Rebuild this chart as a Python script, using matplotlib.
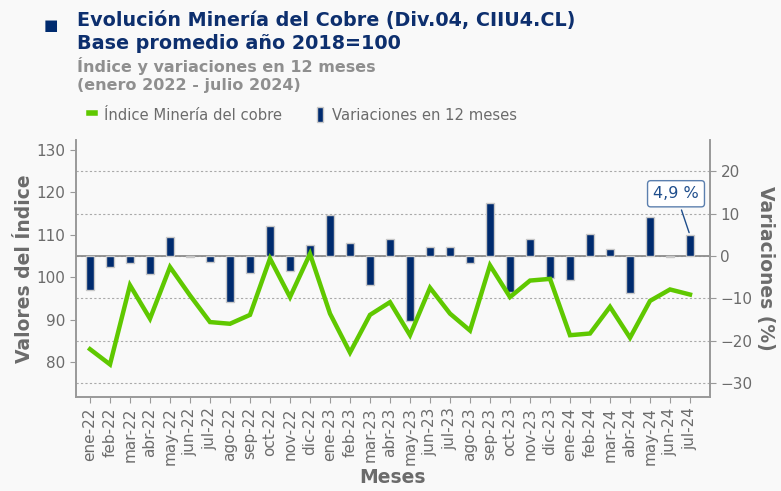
import matplotlib.pyplot as plt
from matplotlib.lines import Line2D
from matplotlib.patches import Patch

# Datos
meses = ["ene-22", "feb-22", "mar-22", "abr-22", "may-22", "jun-22", "jul-22", "ago-22",
         "sep-22", "oct-22", "nov-22", "dic-22", "ene-23", "feb-23", "mar-23", "abr-23",
         "may-23", "jun-23", "jul-23", "ago-23", "sep-23", "oct-23", "nov-23", "dic-23",
         "ene-24", "feb-24", "mar-24", "abr-24", "may-24", "jun-24", "jul-24"]
indice = [83.0, 79.4, 98.1, 90.2, 102.4, 95.7, 89.4, 89.0, 91.1, 104.4, 95.3, 105.5,
          91.4, 82.2, 91.1, 94.1, 86.3, 97.5, 91.4, 87.4, 102.8, 95.3, 99.2, 99.6,
          86.3, 86.7, 93.0, 85.7, 94.4, 97.1, 95.9]
variacion = [-8.0, -2.6, -1.6, -4.3, 4.6, -0.3, -1.5, -10.9, -4.1, 7.0, -3.5, 2.7,
             9.6, 3.1, -6.8, 4.0, -15.4, 2.1, 2.1, -1.7, 12.6, -8.4, 3.9, -5.2,
             -5.6, 5.3, 1.7, -8.7, 9.1, -0.3, 4.9]

AZUL = "#002b6f"
VERDE = "#5fc800"
GRIS = "#6b6b6b"
FONDO = "#f9f9f9"

fig = plt.figure(figsize=(7.81, 4.91), dpi=100, facecolor=FONDO)
ax2 = fig.add_axes([0.0973, 0.1914, 0.8118, 0.5235])
ax = ax2.twinx()
ax.yaxis.tick_left()
ax.yaxis.set_label_position("left")
ax2.yaxis.tick_right()
ax2.yaxis.set_label_position("right")
ax.set_zorder(ax2.get_zorder() + 1)
ax.patch.set_visible(False)
ax2.set_facecolor(FONDO)

x = range(len(meses))

# Barras de variaciones
ax2.bar(x, variacion, width=0.4, color=AZUL, edgecolor="#c8c8c8", linewidth=1, zorder=3)
ax2.axhline(0, color="#8c8c8c", linewidth=1.3, zorder=2)
ax2.set_ylim(-33.3, 27.4)
ax2.set_yticks([-30, -20, -10, 0, 10, 20])
ax2.grid(axis="y", linestyle=(0, (2, 2)), color="#aaaaaa", linewidth=0.8, zorder=0)

# Linea del indice
ax.plot(x, indice, color=VERDE, linewidth=3.2, solid_joinstyle="miter", zorder=4)
ax.set_ylim(71.7, 132.4)
ax.set_yticks([80, 90, 100, 110, 120, 130])

ax2.set_xlim(-0.7, 31.0)
ax2.set_xticks(list(x))
ax2.set_xticklabels(meses, rotation=90, fontsize=11, color=GRIS)

for a in (ax, ax2):
    a.spines["top"].set_visible(False)
    for s in ("left", "right", "bottom"):
        a.spines[s].set_color("#999999")
        a.spines[s].set_linewidth(1.2)
    a.tick_params(colors="#999999", labelcolor=GRIS, labelsize=11, length=4)

ax.set_ylabel("Valores del Índice", fontsize=13.5, fontweight="bold", color=GRIS, labelpad=2)
ax2.set_ylabel("Variaciones (%)", fontsize=13.5, fontweight="bold", color=GRIS,
               rotation=270, labelpad=16)
ax2.set_xlabel("Meses", fontsize=13.5, fontweight="bold", color=GRIS, labelpad=2)

# Etiqueta del ultimo dato
ax2.annotate("4,9 %", xy=(30, 4.9), xytext=(29.3, 14.7), textcoords="data",
             ha="center", va="center", fontsize=11.5, color="#1f4e8c", zorder=6,
             bbox=dict(boxstyle="round,pad=0.35,rounding_size=0.2", fc="white",
                       ec="#5b7fae", lw=1),
             arrowprops=dict(arrowstyle="-", color="#1f4e8c", lw=1))

# Titulos
fig.text(0.056, 0.948, "■", fontsize=11, color=AZUL, va="center", ha="left")
fig.text(0.099, 0.958, "Evolución Minería del Cobre (Div.04, CIIU4.CL)", fontsize=13.8,
         fontweight="bold", color="#0d2f6e", va="center")
fig.text(0.099, 0.912, "Base promedio año 2018=100", fontsize=13.8,
         fontweight="bold", color="#0d2f6e", va="center")
fig.text(0.099, 0.865, "Índice y variaciones en 12 meses", fontsize=11.5,
         fontweight="bold", color="#8f8f8f", va="center")
fig.text(0.099, 0.825, "(enero 2022 - julio 2024)", fontsize=11.5,
         fontweight="bold", color="#8f8f8f", va="center")

handles = [Line2D([0], [0], color=VERDE, linewidth=4),
           Patch(facecolor=AZUL, edgecolor="#c8c8c8")]
fig.legend(handles, ["Índice Minería del cobre", "Variaciones en 12 meses"],
           loc="center left", bbox_to_anchor=(0.114, 0.766), ncol=2, frameon=False,
           fontsize=10.6, labelcolor=GRIS, handlelength=0.4, handleheight=1.2,
           handletextpad=0.6, columnspacing=2.4, borderaxespad=0, borderpad=0)

fig.savefig("out.png", dpi=100, facecolor=FONDO)
